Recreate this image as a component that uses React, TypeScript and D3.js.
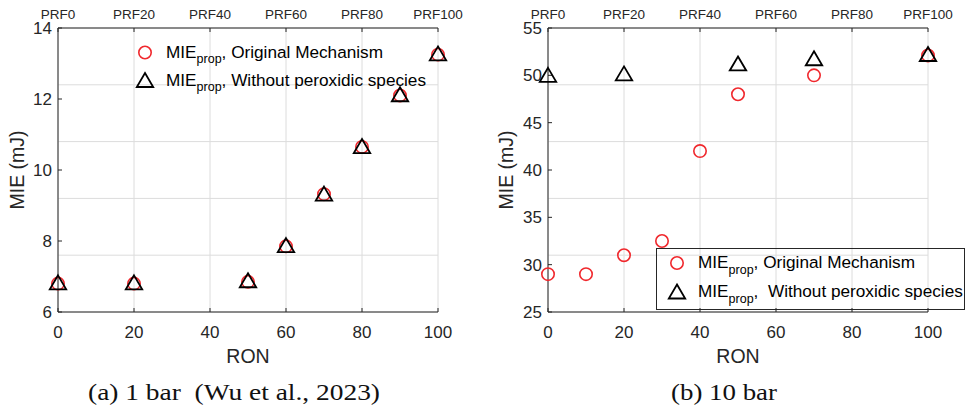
import React from 'react';
import * as d3 from 'd3';

const ronTicks = [0, 20, 40, 60, 80, 100];
const prfLabels = ['PRF0', 'PRF20', 'PRF40', 'PRF60', 'PRF80', 'PRF100'];

// (a) 1 bar
const ron1bar = [0, 20, 50, 60, 70, 80, 90, 100];
const mieOrig1bar = [6.8, 6.8, 6.85, 7.85, 9.32, 10.65, 12.1, 13.25];
const mieNoPerox1bar = [6.82, 6.82, 6.88, 7.87, 9.32, 10.66, 12.12, 13.27];
const yTicks1bar = [6, 8, 10, 12, 14];

// (b) 10 bar
const ron10barOrig = [0, 10, 20, 30, 40, 50, 70, 100];
const mieOrig10bar = [29, 29, 31, 32.5, 42, 48, 50, 52.1];
const ron10barNoPerox = [0, 20, 50, 70, 100];
const mieNoPerox10bar = [50, 50.15, 51.2, 51.75, 52.2];
const yTicks10bar = [25, 30, 35, 40, 45, 50, 55];

const legendOrig = ', Original Mechanism';
const legendNoPeroxA = ', Without peroxidic species';
const legendNoPeroxB = ',  Without peroxidic species';
const captionA = '(a) 1 bar  (Wu et al., 2023)';
const captionB = '(b) 10 bar';

const TXT = '#262626';
const GRID = '#dcdcdc';
const RED = '#f0282d';
const SANS = '"Liberation Sans", Arial, Helvetica, sans-serif';
const SERIF = '"Liberation Serif", "DejaVu Serif", serif';

const triPath = 'M0,-7.5L8.2,6.5L-8.2,6.5Z';

type PanelProps = {
  x0: number; x1: number; yTop: number; yBot: number;
  yDomain: [number, number]; yTicks: number[];
  circX: number[]; circY: number[]; triX: number[]; triY: number[];
  yLabelX: number;
  caption: string; captionX: number; captionW: number;
  legend: React.ReactNode;
};

function Panel(p: PanelProps) {
  const x = d3.scaleLinear().domain([0, 100]).range([p.x0, p.x1]);
  const y = d3.scaleLinear().domain(p.yDomain).range([p.yBot, p.yTop]);
  // secondary (top) axis has its own y scale 0..1 that drives the horizontal grid
  const y2 = d3.scaleLinear().domain([0, 1]).range([p.yBot, p.yTop]);
  const gridY = y2.ticks(5);
  const midY = (p.yTop + p.yBot) / 2;
  const midX = (p.x0 + p.x1) / 2;
  return (
    <g>
      {ronTicks.map((t) => (
        <line key={'gx' + t} x1={x(t)} x2={x(t)} y1={p.yTop} y2={p.yBot} stroke={GRID} strokeWidth={1} />
      ))}
      {gridY.map((t) => (
        <line key={'gy' + t} x1={p.x0} x2={p.x1} y1={y2(t)} y2={y2(t)} stroke={GRID} strokeWidth={1} />
      ))}
      <line x1={p.x0} x2={p.x1} y1={p.yTop} y2={p.yTop} stroke={TXT} strokeWidth={1} />
      <line x1={p.x0} x2={p.x1} y1={p.yBot} y2={p.yBot} stroke={TXT} strokeWidth={1} />
      <line x1={p.x0} x2={p.x0} y1={p.yTop} y2={p.yBot} stroke={TXT} strokeWidth={1} />
      {ronTicks.map((t) => (
        <g key={'xt' + t}>
          <line x1={x(t)} x2={x(t)} y1={p.yBot} y2={p.yBot - 4} stroke={TXT} />
          <line x1={x(t)} x2={x(t)} y1={p.yTop} y2={p.yTop + 4} stroke={TXT} />
          <text x={x(t)} y={p.yBot + 26} textAnchor="middle" fontFamily={SANS} fontSize={17} fill={TXT}>{t}</text>
        </g>
      ))}
      {prfLabels.map((l, i) => (
        <text key={l} x={x(ronTicks[i])} y={p.yTop - 9} textAnchor="middle" fontFamily={SANS} fontSize={13.5} fill={TXT}>{l}</text>
      ))}
      {p.yTicks.map((t) => (
        <g key={'yt' + t}>
          <line x1={p.x0} x2={p.x0 + 4} y1={y(t)} y2={y(t)} stroke={TXT} />
          <text x={p.x0 - 6} y={y(t) + 6} textAnchor="end" fontFamily={SANS} fontSize={17} fill={TXT}>{t}</text>
        </g>
      ))}
      <text x={midX} y={p.yBot + 51} textAnchor="middle" fontFamily={SANS} fontSize={19.5} fill={TXT}>RON</text>
      <text transform={`translate(${p.yLabelX},${midY}) rotate(-90)`} textAnchor="middle" fontFamily={SANS} fontSize={19.5} fill={TXT}>MIE (mJ)</text>
      {p.circX.map((v, i) => (
        <circle key={'c' + i} cx={x(v)} cy={y(p.circY[i])} r={6.2} fill="none" stroke={RED} strokeWidth={1.6} />
      ))}
      {p.triX.map((v, i) => (
        <path key={'t' + i} d={triPath} transform={`translate(${x(v)},${y(p.triY[i])})`} fill="none" stroke="#000" strokeWidth={1.8} />
      ))}
      {p.legend}
      <text x={p.captionX} y={400} textAnchor="middle" fontFamily={SERIF} fontSize={24} fill="#111"
        textLength={p.captionW} lengthAdjust="spacingAndGlyphs" style={{ whiteSpace: 'pre' }}>{p.caption}</text>
    </g>
  );
}

function LegendRow({ x, y, marker, rest }: { x: number; y: number; marker: 'c' | 't'; rest: string }) {
  return (
    <g>
      {marker === 'c' ? (
        <circle cx={x} cy={y} r={6.2} fill="none" stroke={RED} strokeWidth={1.6} />
      ) : (
        <path d={triPath} transform={`translate(${x},${y})`} fill="none" stroke="#000" strokeWidth={1.8} />
      )}
      <text x={x + 21} y={y + 5} fontFamily={SANS} fontSize={17.2} fill="#000" style={{ whiteSpace: 'pre' }}>
        MIE<tspan fontSize={12.5} dy={5.5}>prop</tspan><tspan dy={-5.5}>{rest}</tspan>
      </text>
    </g>
  );
}

export default function App() {
  const legendA = (
    <g>
      <LegendRow x={145} y={52.5} marker="c" rest={legendOrig} />
      <LegendRow x={145} y={80.5} marker="t" rest={legendNoPeroxA} />
    </g>
  );
  const legendB = (
    <g>
      <rect x={656.5} y={248.5} width={308} height={61} fill="none" stroke={TXT} strokeWidth={1} />
      <LegendRow x={677} y={263} marker="c" rest={legendOrig} />
      <LegendRow x={677} y={292} marker="t" rest={legendNoPeroxB} />
    </g>
  );
  return (
    <svg width={966} height={413} style={{ position: 'absolute', left: 0, top: 0, background: '#fff' }}>
      <rect width={966} height={413} fill="#fff" />
      <Panel x0={58} x1={438} yTop={28} yBot={312} yDomain={[6, 14]} yTicks={yTicks1bar}
        circX={ron1bar} circY={mieOrig1bar} triX={ron1bar} triY={mieNoPerox1bar}
        yLabelX={24} caption={captionA} captionX={234} captionW={292} legend={legendA} />
      <Panel x0={548} x1={928} yTop={28} yBot={312} yDomain={[25, 55]} yTicks={yTicks10bar}
        circX={ron10barOrig} circY={mieOrig10bar} triX={ron10barNoPerox} triY={mieNoPerox10bar}
        yLabelX={513} caption={captionB} captionX={724} captionW={106} legend={legendB} />
    </svg>
  );
}
